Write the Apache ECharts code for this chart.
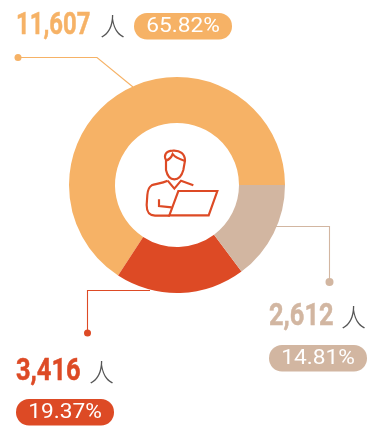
<!DOCTYPE html>
<html><head><meta charset="utf-8">
<style>html,body{margin:0;padding:0;background:#fff}#c{width:370px;height:426px}</style>
<script src="https://cdn.jsdelivr.net/npm/echarts@6/dist/echarts.min.js"></script>
</head><body><div id="c"></div>
<script>
const names = ['A','B','C'];
const counts = [11607, 3416, 2612];
const percents = ['65.82%','19.37%','14.81%'];
const colors = ['#F6B266','#DD4A25','#D2B6A1'];
const unit = '人';
const blocks = [
  {nx:16, ny:26.5, sx:0.77, ux:100, px:134, py:13, pw:98},
  {nx:16, ny:372.5, sx:0.82, ux:89, px:16, py:399, pw:98},
  {nx:269, ny:317, sx:0.82, ux:341, px:269, py:345, pw:98}
];
const leaders = [
  [[18,57.5],[97,57.5],[133,87]],
  [[87.5,333],[87.5,290.5],[150,290.5]],
  [[329.5,282],[329.5,226.5],[272,226.5]]
];
const iconPaths = [
 'M108 60 C100 45 108 33 128 32 C150 30 165 42 165 62 L160 90 C155 108 145 118 133 118 C120 118 112 108 108 90 Z',
 'M108 62 C120 58 125 50 128 42 C135 52 150 58 163 62',
 'M113 122 C95 130 75 132 65 136 C55 142 53 150 52 165 L50 195 C50 215 55 226 75 227 L120 227',
 'M113 122 L133 146 L153 122 L190 136',
 'M87 178 L87 198 L125 202',
 'M145 153 L262 153 L236 226 L118 226 Z'
];
const fmt = n => String(n).replace(/\B(?=(\d{3})+$)/g, ',');
const graphic = [];
counts.forEach((v,i)=>{
  const b = blocks[i], c = colors[i];
  const L = leaders[i];
  graphic.push({type:'polyline',z:1,shape:{points:L},style:{stroke:c,lineWidth:1.1,fill:null}});
  graphic.push({type:'circle',z:2,shape:{cx:L[0][0],cy:L[0][1],r:i==2?4:3.5},style:{fill:c}});
  graphic.push({type:'text',z:3,x:b.nx,y:b.ny,scaleX:b.sx,style:{text:fmt(v),fill:c,stroke:c,lineWidth:0.5,font:'bold 31px Roboto',textAlign:'left',textVerticalAlign:'middle'}});
  graphic.push({type:'text',z:3,x:b.ux,y:b.ny,style:{text:unit,fill:'#555555',font:'300 25px "Noto Sans CJK SC"',textAlign:'left',textVerticalAlign:'middle'}});
  graphic.push({type:'rect',z:3,shape:{x:b.px,y:b.py,width:b.pw,height:26.5,r:13},style:{fill:c}});
  graphic.push({type:'text',z:4,x:b.px+b.pw/2,y:b.py+13.5,scaleX:1.08,style:{text:percents[i],fill:'#fff',font:'21px Roboto',textAlign:'center',textVerticalAlign:'middle'}});
});
const chart = echarts.init(document.getElementById('c'),null,{renderer:'canvas'});
chart.setOption({
  animation:false,
  backgroundColor:'#fff',
  color:colors,
  series:[{type:'pie',center:[177,185],radius:[62,108],startAngle:0,clockwise:false,silent:true,z:3,
    label:{show:false},labelLine:{show:false},itemStyle:{borderWidth:0},
    data:counts.map((v,i)=>({name:names[i],value:v}))},
  {type:'custom',coordinateSystem:'none',silent:true,z:5,data:[[0]],
    renderItem:()=>({type:'group',children:iconPaths.map(p=>({type:'path',x:130,y:140,scaleX:1/3,scaleY:1/3,
      shape:{pathData:p},style:{stroke:'#DD4A25',lineWidth:6.5,fill:null}}))})}],
  graphic:{elements:graphic}
});
</script></body></html>
